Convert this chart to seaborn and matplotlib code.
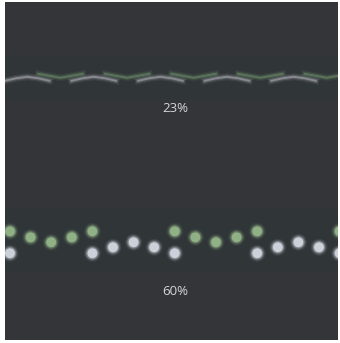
import numpy as np
import pandas as pd
import matplotlib.pyplot as plt
import seaborn as sns

# top strand (thin braid), x in px steps
top_x = [5 + 11.1 * k for k in range(31)]
top_gray = [81, 78.5, 77, 78.5, 81, np.nan,
            81, 78.5, 77, 78.5, 81, np.nan,
            81, 78.5, 77, 78.5, 81, np.nan,
            81, 78.5, 77, 78.5, 81, np.nan,
            81, 78.5, 77, 78.5, 81, np.nan, 81]
top_green = [np.nan, np.nan, np.nan, 74, 76, 78,
             76, 74, np.nan, 74, 76, 78,
             76, 74, np.nan, 74, 76, 78,
             76, 74, np.nan, 74, 76, 78,
             76, 74, np.nan, 74, 76, 78, 76]

# bottom strand (dots)
dot_x = [10 + 20.6 * k for k in range(17)]
dot_green = [232, 238, 243, 238, 232, np.nan, np.nan, np.nan,
             232, 238, 243, 238, 232, np.nan, np.nan, np.nan, 232]
dot_white = [254, np.nan, np.nan, np.nan, 254, 248, 243, 248,
             254, np.nan, np.nan, np.nan, 254, 248, 243, 248, 254]

labels = ["23%", "60%"]
label_y = [109, 292]

BG = "#343538"
BAND = "#303538"

rows = []
for name, ys in [("gray", top_gray), ("green", top_green)]:
    seg = 0
    for x, y in zip(top_x, ys):
        if np.isnan(y):
            seg += 1
            continue
        rows.append({"x": x, "y": y, "strand": name, "seg": seg})
df_top = pd.DataFrame(rows)

df_dots = pd.DataFrame({
    "x": dot_x * 2,
    "y": dot_green + dot_white,
    "strand": ["green"] * len(dot_x) + ["white"] * len(dot_x),
}).dropna()

fig = plt.figure(figsize=(3.4, 3.43), dpi=100, facecolor="white")
ax = fig.add_axes([5 / 340, 3 / 343, 333 / 340, 338 / 343])
ax.set_facecolor(BG)
ax.set_xlim(5, 338)
ax.set_ylim(341, 2)
ax.axhspan(55, 100, color=BAND, lw=0, zorder=0)
ax.axhspan(210, 272, color=BAND, lw=0, zorder=0)

# soft, blurry braid
pal_line = {"gray": "#a6a8ae", "green": "#6a8a68"}
for lw, a in [(5, 0.12), (3, 0.25), (1.4, 0.6)]:
    sns.lineplot(data=df_top, x="x", y="y", hue="strand", units="seg",
                 estimator=None, palette=pal_line, lw=lw, alpha=a,
                 legend=False, ax=ax)

# glowing dots
pal_dot = {"green": "#9cc090", "white": "#dfe3ec"}
for s, a in [(150, 0.08), (110, 0.15), (80, 0.35), (50, 0.8)]:
    sns.scatterplot(data=df_dots, x="x", y="y", hue="strand", palette=pal_dot,
                    s=s, alpha=a, linewidth=0, legend=False, ax=ax)

for lab, ly in zip(labels, label_y):
    ax.text(175, ly, lab, color="#d6d6d6", fontsize=9.5, family="Open Sans",
            ha="center", va="center")

ax.set_xticks([])
ax.set_yticks([])
ax.set_xlabel("")
ax.set_ylabel("")
for s in ax.spines.values():
    s.set_visible(False)

fig.savefig("out.png", dpi=100, facecolor="white")
